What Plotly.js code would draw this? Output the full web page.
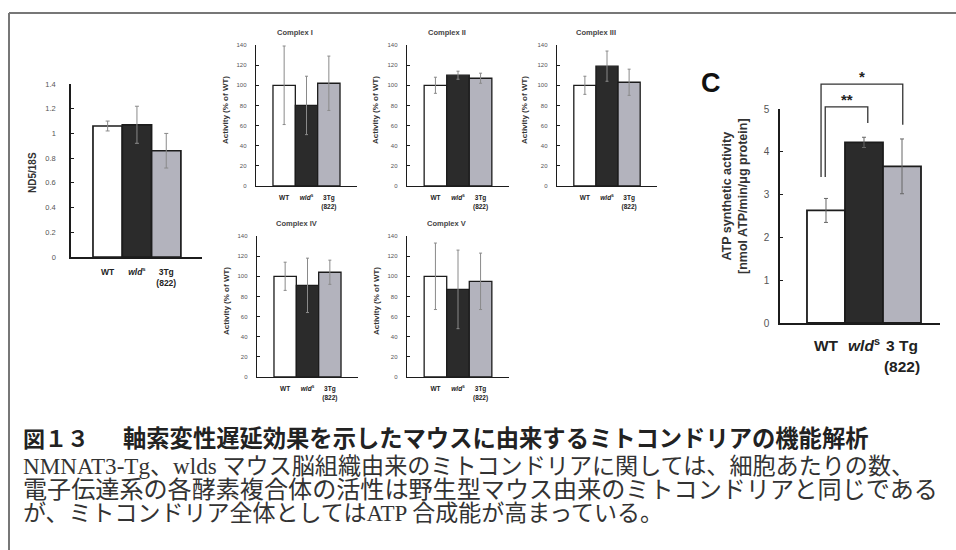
<!DOCTYPE html>
<html>
<head>
<meta charset="utf-8">
<script src="https://cdn.plot.ly/plotly-3.0.1.min.js"></script>
<style>
html,body{margin:0;padding:0;background:#fff;}
#chart{width:956px;height:550px;}
</style>
</head>
<body>
<div id="chart"></div>
<script>
// ---------- data ----------
var groups = ['WT', 'wlds', '3Tg(822)'];
var tickLabelsSmall = ['WT', '<i>wld</i><sup>s</sup>', '3Tg<br>(822)'];
var tickLabelsC = ['WT', '<i>wld</i><sup>s</sup>', '3 Tg<br>(822)'];
var barColors = ['#ffffff', '#2b2b2b', '#b3b3bd'];

var nd5 = [1.06, 1.07, 0.86];
var nd5Err = [0.04, 0.15, 0.14];
var nd5Ticks = [0, 0.2, 0.4, 0.6, 0.8, 1, 1.2, 1.4];

var complexNames = ['Complex I', 'Complex II', 'Complex III', 'Complex IV', 'Complex V'];
var complex1 = [100, 80, 102];
var complex1Err = [39, 29, 27];
var complex2 = [100, 110, 107];
var complex2Err = [8, 4, 5];
var complex3 = [100, 119, 103];
var complex3Err = [9, 15, 13];
var complex4 = [100, 91, 104];
var complex4Err = [14, 27, 12];
var complex5 = [100, 87, 95];
var complex5Err = [33, 39, 28];
var complexTicks = [0, 20, 40, 60, 80, 100, 120, 140];

var atp = [2.63, 4.22, 3.66];
var atpErr = [0.28, 0.12, 0.64];
var atpTicks = [0, 1, 2, 3, 4, 5];

// significance brackets (x in group index units, y in ATP units)
var sigLabels = ['**', '*'];
var sigLeftX = [-0.02, -0.13];
var sigRightX = [1.1, 2.02];
var sigTop = [5.05, 5.58];
var sigLeftEnd = [3.41, 3.41];
var sigRightEnd = [4.67, 4.63];

var captionTitleNum = '図１３';
var captionTitle = '軸索変性遅延効果を示したマウスに由来するミトコンドリアの機能解析';
var captionLines = [
  'NMNAT3-Tg、wlds マウス脳組織由来のミトコンドリアに関しては、細胞あたりの数、',
  '電子伝達系の各酵素複合体の活性は野生型マウス由来のミトコンドリアと同じである',
  'が、ミトコンドリア全体としてはATP 合成能が高まっている。'
];

// ---------- layout helpers ----------
var W = 956, H = 550;
function fx(p){ return p / W; }
function fy(p){ return 1 - p / H; }
var SANS = 'Liberation Sans, Arial, sans-serif';

var panels = [
  {vals: nd5, err: nd5Err, ticks: nd5Ticks, range: [0, 1.4], px: [71, 202], py: [84, 257],
   xr: [-1.25, 3.22], tickSize: 7.5, labSize: 8.5, ytitle: 'ND5/18S', ytx: 32, yty: 172, ytSize: 10,
   title: null, labels: tickLabelsSmall, lw: 1.7, ystand: 12, xstand: 6},
  {vals: complex1, err: complex1Err, ticks: complexTicks, range: [0, 140], px: [256, 357], py: [45, 186],
   title: complexNames[0], ytx: 226, yty: 110},
  {vals: complex2, err: complex2Err, ticks: complexTicks, range: [0, 140], px: [407, 509], py: [45, 186],
   title: complexNames[1], ytx: 376, yty: 110},
  {vals: complex3, err: complex3Err, ticks: complexTicks, range: [0, 140], px: [557, 657], py: [45, 186],
   title: complexNames[2], ytx: 525, yty: 110},
  {vals: complex4, err: complex4Err, ticks: complexTicks, range: [0, 140], px: [257, 358], py: [236, 377],
   title: complexNames[3], ytx: 226, yty: 301},
  {vals: complex5, err: complex5Err, ticks: complexTicks, range: [0, 140], px: [407, 509], py: [236, 377],
   title: complexNames[4], ytx: 376, yty: 301},
  {vals: atp, err: atpErr, ticks: atpTicks, range: [0, 5], px: [780, 940], py: [109, 323],
   xr: [-1.21, 3.0], tickSize: 10, labSize: 15.5, ytitle: 'ATP synthetic activity<br>[nmol ATP/min/μg protein]',
   ytx: 735, yty: 196, ytSize: 12.5, title: null, labels: tickLabelsC, lw: 1.8, ystand: 7, xstand: 8, errColor: '#666'}
];

var data = [];
var layout = {
  width: W, height: H,
  margin: {l: 0, r: 0, t: 0, b: 0},
  paper_bgcolor: '#ffffff',
  plot_bgcolor: 'rgba(0,0,0,0)',
  showlegend: false,
  bargap: 0,
  font: {family: SANS, color: '#222'},
  annotations: [],
  shapes: []
};

panels.forEach(function(p, i){
  var n = i + 1;
  var sx = n === 1 ? '' : String(n);
  var isSmall = (n >= 2 && n <= 6);
  var xr = p.xr || [-1.26, 3.26];
  data.push({
    type: 'bar',
    x: [0, 1, 2],
    y: p.vals,
    width: 1,
    xaxis: 'x' + sx, yaxis: 'y' + sx,
    marker: {color: barColors, line: {color: '#1c1c1c', width: p.lw || 1.3}},
    error_y: {type: 'data', array: p.err, visible: true, color: p.errColor || '#8a8a8a',
              thickness: 1, width: isSmall ? 1.5 : 2},
    hoverinfo: 'skip'
  });
  layout['xaxis' + sx] = {
    domain: [fx(p.px[0]), fx(p.px[1])],
    anchor: 'y' + sx,
    type: 'linear',
    range: xr,
    showgrid: false, zeroline: false,
    showline: true, linecolor: '#1c1c1c', linewidth: p.lw || 1.3,
    ticks: '',
    tickvals: [0, 1, 2],
    ticktext: p.labels || tickLabelsSmall,
    tickfont: {size: p.labSize || 6.5, color: '#222', family: SANS, weight: 'bold'},
    ticklabelstandoff: p.xstand !== undefined ? p.xstand : 5,
    fixedrange: true
  };
  layout['yaxis' + sx] = {
    domain: [fy(p.py[1]), fy(p.py[0])],
    anchor: 'x' + sx,
    range: p.range,
    showgrid: false, zeroline: false,
    showline: true, linecolor: '#1c1c1c', linewidth: p.lw || 1.3,
    ticks: 'inside', ticklen: 3, tickwidth: 1, tickcolor: '#1c1c1c',
    tickvals: p.ticks,
    tickfont: {size: p.tickSize || 6, color: '#555'},
    ticklabelstandoff: p.ystand !== undefined ? p.ystand : 7,
    fixedrange: true
  };
  // y title
  layout.annotations.push({
    xref: 'paper', yref: 'paper', x: fx(p.ytx), y: fy(p.yty),
    text: p.ytitle || 'Activity (% of WT)', showarrow: false, textangle: -90,
    xanchor: 'center', yanchor: 'middle',
    font: {size: p.ytSize || 8, color: '#333', family: SANS, weight: 'bold'}
  });
  if (p.title) {
    layout.annotations.push({
      xref: 'x' + sx + ' domain', yref: 'y' + sx + ' domain', x: 0.39, y: 1, yshift: 6,
      text: p.title, showarrow: false, xanchor: 'center', yanchor: 'bottom',
      font: {size: 7.5, color: '#444', family: SANS, weight: 'bold'}
    });
  }
});

// overlay axes for significance brackets of panel C (same scale as x7/y7, taller domain)
var cp = panels[6];
var topPx = 60;
var cScale = (cp.py[1] - cp.py[0]) / (cp.range[1] - cp.range[0]);
layout.xaxis8 = {domain: [fx(cp.px[0]), fx(cp.px[1])], range: cp.xr, type: 'linear', visible: false, anchor: 'y8', fixedrange: true};
layout.yaxis8 = {domain: [fy(cp.py[1]), fy(topPx)], range: [0, (cp.py[1] - topPx) / cScale], visible: false, anchor: 'x8', fixedrange: true};
data.push({type: 'scatter', x: [], y: [], xaxis: 'x8', yaxis: 'y8', hoverinfo: 'skip'});

sigLabels.forEach(function(lab, k){
  layout.shapes.push({
    type: 'path', xref: 'x8', yref: 'y8',
    path: 'M' + sigLeftX[k] + ',' + sigLeftEnd[k] + ' L' + sigLeftX[k] + ',' + sigTop[k] +
          ' L' + sigRightX[k] + ',' + sigTop[k] + ' L' + sigRightX[k] + ',' + sigRightEnd[k],
    line: {color: '#333', width: 1.3}
  });
  layout.annotations.push({
    xref: 'x8', yref: 'y8', x: (sigLeftX[k] + sigRightX[k]) / 2, y: sigTop[k],
    text: lab, showarrow: false, xanchor: 'center', yanchor: 'bottom', yshift: -3,
    font: {size: 15, color: '#222', family: SANS, weight: 'bold'}
  });
});

// panel letter
layout.annotations.push({
  xref: 'paper', yref: 'paper', x: fx(699), y: fy(83), text: 'C', showarrow: false,
  xanchor: 'left', yanchor: 'middle', font: {size: 27, color: '#111', family: SANS, weight: 'bold'}
});

// frame lines
layout.shapes.push({type: 'line', xref: 'paper', yref: 'paper', x0: fx(9), x1: 1, y0: fy(13), y1: fy(13), line: {color: '#777', width: 2}});
layout.shapes.push({type: 'line', xref: 'paper', yref: 'paper', x0: fx(9), x1: fx(9), y0: fy(13), y1: 0, line: {color: '#777', width: 2}});

// caption
var CJK = 'Noto Sans CJK JP, sans-serif';
var BODY = 'Liberation Serif, Noto Sans CJK JP, serif';
layout.annotations.push({xref: 'paper', yref: 'paper', x: fx(21), y: fy(437), text: captionTitleNum, showarrow: false,
  xanchor: 'left', yanchor: 'middle', font: {size: 22, color: '#222', family: CJK, weight: 'bold'}});
layout.annotations.push({xref: 'paper', yref: 'paper', x: fx(121), y: fy(437), text: captionTitle, showarrow: false,
  xanchor: 'left', yanchor: 'middle', font: {size: 23.3, color: '#222', family: CJK, weight: 'bold'}});
var captionSizes = [23.1, 24.1, 23];
var captionY = [466, 490, 513];
captionLines.forEach(function(t, k){
  layout.annotations.push({xref: 'paper', yref: 'paper', x: fx(21), y: fy(captionY[k]), text: t, showarrow: false,
    xanchor: 'left', yanchor: 'middle', font: {size: captionSizes[k], color: '#333', family: BODY}});
});

Plotly.newPlot('chart', data, layout, {displayModeBar: false, staticPlot: true});
</script>
</body>
</html>
